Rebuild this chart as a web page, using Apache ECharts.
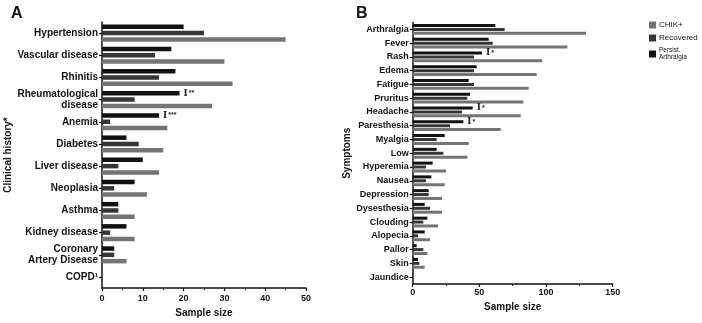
<!DOCTYPE html>
<html>
<head>
<meta charset="utf-8">
<script src="https://cdn.jsdelivr.net/npm/echarts@6/dist/echarts.min.js"></script>
<style>html,body{margin:0;padding:0;background:#fff;}#c{width:702px;height:323px;}</style>
</head>
<body>
<div id="c"></div>
<script>
const catA = ['Hypertension','Vascular disease','Rhinitis','Rheumatological\ndisease','Anemia','Diabetes','Liver disease','Neoplasia','Asthma','Kidney disease','Coronary\nArtery Disease','COPD¹'];
const persistA = [20,17,18,19,14,6,10,8,4,6,3,0];
const recoveredA = [25,13,14,8,2,9,4,3,4,2,3,0];
const chikA = [45,30,32,27,16,15,14,11,8,8,6,0];
const sigA = ['','','','**','***','','','','','','',''];

const catB = ['Arthralgia','Fever','Rash','Edema','Fatigue','Pruritus','Headache','Paresthesia','Myalgia','Low','Hyperemia','Nausea','Depression','Dysesthesia','Clouding','Alopecia','Pallor','Skin','Jaundice'];
const persistB = [62,57,52,48,42,43,45,38,24,18,15,14,12,9,11,9,3,4,0];
const recoveredB = [69,60,46,46,46,41,37,28,18,23,10,10,12,13,8,4,8,5,0];
const chikB = [130,116,97,93,87,83,81,66,42,41,25,24,22,22,19,13,11,9,0];
const sigB = ['','','*','','','','*','*','','','','','','','','','','',''];

const ticksA = {min:0, max:50, interval:10};
const ticksB = {min:0, max:150, interval:50};

const FONT = 'Liberation Sans';
const C_PERSIST = '#111111', C_REC = '#363636', C_CHIK = '#747474';
const N_PERSIST = 'Persist.\nArthralgia', N_REC = 'Recovered', N_CHIK = 'CHIK+';

function withSig(vals, sig) {
  return vals.map((v, i) => sig[i] ? {
    value: v,
    label: {show: true, position: 'right', distance: 4,
      formatter: '{e|I}{s|' + sig[i] + '}',
      rich: {e: {fontFamily: 'DejaVu Serif', fontSize: 9, fontWeight: 'bold', color: '#222'},
             s: {fontFamily: FONT, fontSize: 7, fontWeight: 'bold', color: '#222', padding:[0,0,0,1]}}}
  } : v);
}

function xAxis(gi, t, margin, gap) {
  return {
    type: 'value', gridIndex: gi, min: t.min, max: t.max, interval: t.interval,
    name: 'Sample size', nameLocation: 'middle', nameGap: gap,
    nameTextStyle: {fontFamily: FONT, fontWeight: 'bold', fontSize: 10, color: '#111'},
    axisLine: {show: true, lineStyle: {color: '#111', width: 1.5}},
    axisTick: {show: true, length: 3, lineStyle: {color: '#111', width: 1.2}},
    minorTick: {show: true, splitNumber: 2, length: 2, lineStyle: {color: '#111', width: 1}},
    splitLine: {show: false},
    axisLabel: {fontFamily: FONT, fontWeight: 'bold', fontSize: 9, color: '#111', margin: margin}
  };
}
function yAxis(gi, cats, fs, name, gap) {
  return {
    type: 'category', gridIndex: gi, data: cats, inverse: true,
    name: name, nameLocation: 'middle', nameGap: gap, nameRotate: 90,
    nameTextStyle: {fontFamily: FONT, fontWeight: 'bold', fontSize: 10, color: '#111'},
    axisLine: {show: true, lineStyle: {color: '#111', width: 1.5}},
    axisTick: {show: true, alignWithLabel: true, length: 3, lineStyle: {color: '#111', width: 1.2}},
    axisLabel: {fontFamily: FONT, fontWeight: 'bold', fontSize: fs, color: '#111', margin: 4, lineHeight: fs + 1, align: 'right'}
  };
}
function bar(name, gi, data, color, w, gap) {
  return {type: 'bar', name: name, xAxisIndex: gi, yAxisIndex: gi, data: data,
    barWidth: w, barGap: gap, itemStyle: {color: color}, silent: true, animation: false};
}

const chart = echarts.init(document.getElementById('c'), null, {renderer: 'canvas'});
chart.setOption({
  animation: false,
  backgroundColor: '#fff',
  title: [
    {text: 'A', left: 6, top: 1, textStyle: {fontFamily: FONT, fontWeight: 'bold', fontSize: 16, color: '#111'}},
    {text: 'B', left: 351, top: 1, textStyle: {fontFamily: FONT, fontWeight: 'bold', fontSize: 16, color: '#111'}}
  ],
  legend: {
    orient: 'vertical', left: 649, top: 21, itemWidth: 7, itemHeight: 7, itemGap: 5,
    icon: 'rect', padding: 0,
    textStyle: {fontFamily: FONT, fontSize: 8, color: '#111', padding: [0,0,0,-2]},
    data: [{name: N_CHIK}, {name: N_REC}, {name: N_PERSIST, textStyle: {fontSize: 6.5, lineHeight: 7}}]
  },
  grid: [
    {left: 102, right: 396, top: 22, bottom: 30.5, containLabel: false},
    {left: 412.7, right: 89.3, top: 22.5, bottom: 39, containLabel: false}
  ],
  xAxis: [xAxis(0, ticksA, 6, 15), xAxis(1, ticksB, 4, 13)],
  yAxis: [yAxis(0, catA, 10, 'Clinical history*', 88), yAxis(1, catB, 9, 'Symptoms', 37)],
  series: [
    bar(N_PERSIST, 0, withSig(persistA, sigA), C_PERSIST, 4.5, '40%'),
    bar(N_REC, 0, recoveredA, C_REC, 4.5, '40%'),
    bar(N_CHIK, 0, chikA, C_CHIK, 4.5, '40%'),
    bar(N_PERSIST, 1, withSig(persistB, sigB), C_PERSIST, 3, '30%'),
    bar(N_REC, 1, recoveredB, C_REC, 3, '30%'),
    bar(N_CHIK, 1, chikB, C_CHIK, 3, '30%')
  ]
});
</script>
</body>
</html>
